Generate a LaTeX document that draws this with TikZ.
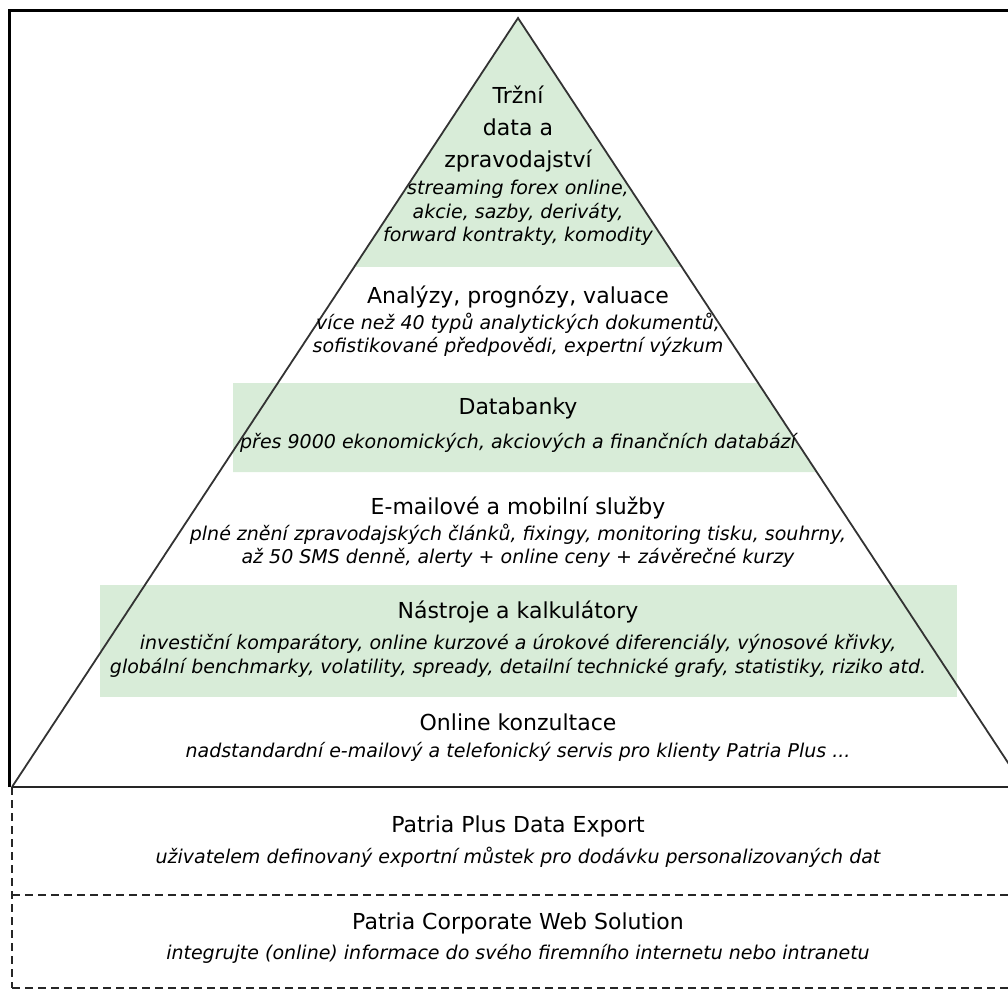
\documentclass[tikz,border=0pt]{standalone}
\usepackage{fontspec}
\setmainfont{DejaVu Sans}
\definecolor{bandgreen}{RGB}{216,236,216}
\tikzset{
  layertitle/.style={align=center, inner sep=0pt, font=\fontsize{22}{32}\selectfont},
  layerdesc/.style={align=center, inner sep=0pt, font=\fontsize{19}{23.5}\selectfont\itshape},
  boxline/.style={line width=1.7pt, black!85, dash pattern=on 8pt off 5pt}
}
\begin{document}
\begin{tikzpicture}[x=1pt,y=-1pt]
      \useasboundingbox (0,0) rectangle (1008,991);
      \clip (0,0) rectangle (1008,991);
      \coordinate (apex) at (518,18);
      \coordinate (bl) at (12,787);
      \coordinate (br) at (1024,787);
      % green bands
      \begin{scope}
            \clip (apex) -- (bl) -- (br) -- cycle;
            \fill[bandgreen] (0,18) rectangle (1008,267);
      \end{scope}
      \fill[bandgreen] (233,383) -- (758,383) -- (817,472) -- (233,472) -- cycle;
      \fill[bandgreen] (100,585) rectangle (957,697);
      % pyramid and frame
      \draw[line width=1.8pt, black!80] (bl) -- (apex) -- (br);
      \draw[line width=2.8pt, black!85] (bl) -- (br);
      \draw[line width=3pt] (9,787) -- (9,10) -- (1008,10);
      % bottom boxes
      \draw[boxline] (12,787) -- (12,988);
      \draw[boxline] (12,895) -- (1008,895);
      \draw[boxline] (12,988) -- (1008,988);
      % layers
      \node[layertitle] (t1) at (518,129) {Tržní\\data a\\zpravodajství};
      \node[layerdesc] (d1) at (518,213) {streaming forex online,\\akcie, sazby, deriváty,\\forward kontrakty, komodity};
      \node[layertitle] (t2) at (518,297) {Analýzy, prognózy, valuace};
      \node[layerdesc] (d2) at (518,335) {více než 40 typů analytických dokumentů,\\sofistikované předpovědi, expertní výzkum};
      \node[layertitle] (t3) at (518,408) {Databanky};
      \node[layerdesc] (d3) at (518,443) {přes 9000 ekonomických, akciových a finančních databází};
      \node[layertitle] (t4) at (518,508) {E-mailové a mobilní služby};
      \node[layerdesc] (d4) at (518,546) {plné znění zpravodajských článků, fixingy, monitoring tisku, souhrny,\\až 50 SMS denně, alerty + online ceny + závěrečné kurzy};
      \node[layertitle] (t5) at (518,612) {Nástroje a kalkulátory};
      \node[layerdesc] (d5) at (518,656) {investiční komparátory, online kurzové a úrokové diferenciály, výnosové křivky,\\globální benchmarky, volatility, spready, detailní technické grafy, statistiky, riziko atd.};
      \node[layertitle] (t6) at (518,722) {Online konzultace};
      \node[layerdesc] (d6) at (518,752) {nadstandardní e-mailový a telefonický servis pro klienty Patria Plus ...};
      \node[layertitle] (t7) at (518,826) {Patria Plus Data Export};
      \node[layerdesc] (d7) at (518,857) {uživatelem definovaný exportní můstek pro dodávku personalizovaných dat};
      \node[layertitle] (t8) at (518,923) {Patria Corporate Web Solution};
      \node[layerdesc] (d8) at (518,954) {integrujte (online) informace do svého firemního internetu nebo intranetu};
\end{tikzpicture}
\end{document}
